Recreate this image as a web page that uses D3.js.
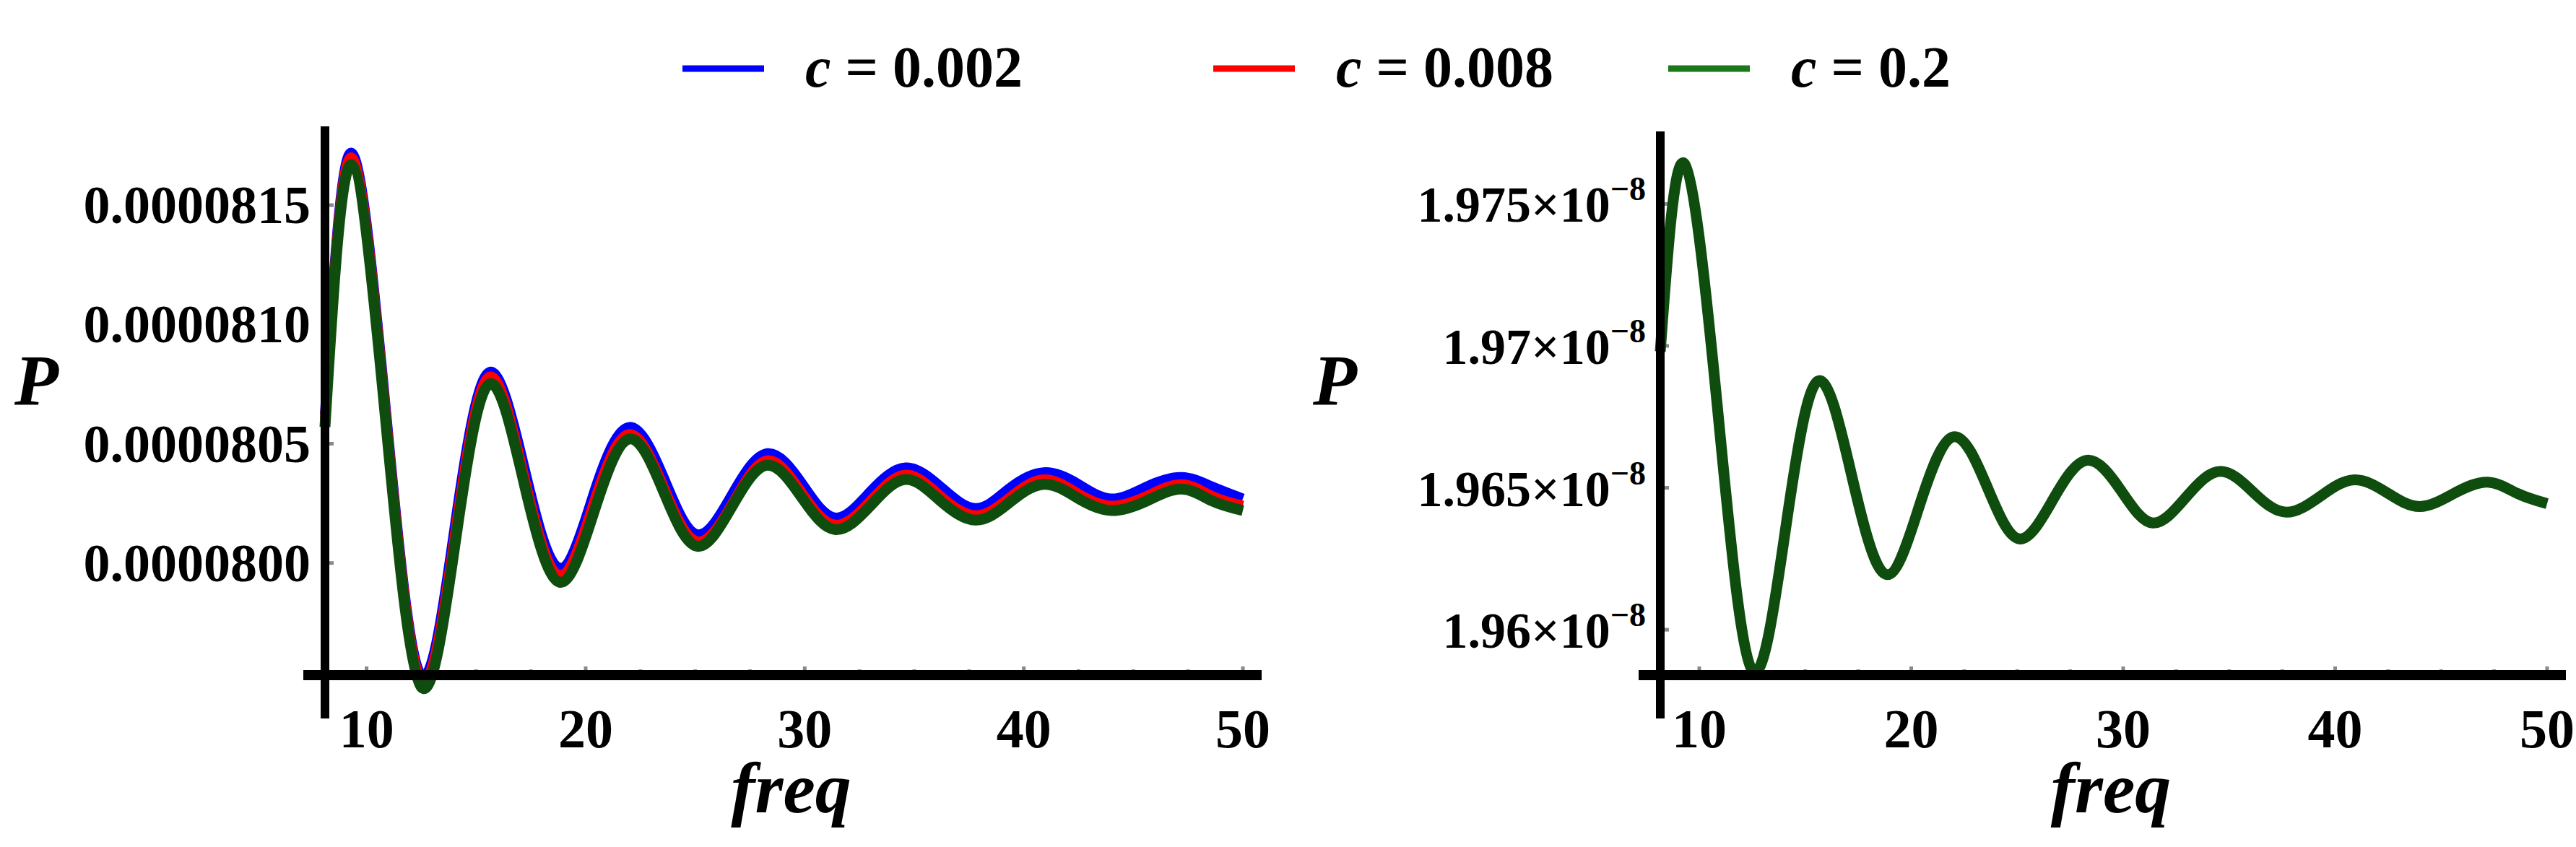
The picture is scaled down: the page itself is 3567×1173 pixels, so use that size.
<!DOCTYPE html>
<html><head><meta charset="utf-8">
<script src="https://cdn.jsdelivr.net/npm/d3@7"></script>
<style>body{margin:0;background:#fff}text{font-family:"Liberation Serif",serif;font-weight:bold}</style>
</head><body><svg width="3567" height="1173"></svg>
<script>
// left panel, freq points (extrema and a few between)
var freqL = [8.1, 9.3, 10.9, 12.5, 14.1, 15.6, 17.2, 18.8, 20.4, 22, 23.6, 25.1, 26.7, 28.3, 29.9, 31.4, 33, 34.6, 36.2, 37.8, 39.3, 40.9, 42.5, 44, 45.6, 47.2, 48.6, 50]
var pBlue  = [8.062e-5, 8.172e-5, 8.062e-5, 7.953e-5, 8.020e-5, 8.080e-5, 8.040e-5, 7.998e-5, 8.030e-5, 8.057e-5, 8.035e-5, 8.012e-5, 8.029e-5, 8.046e-5, 8.033e-5, 8.019e-5, 8.030e-5, 8.040e-5, 8.032e-5, 8.023e-5, 8.031e-5, 8.038e-5, 8.033e-5, 8.027e-5, 8.032e-5, 8.036e-5, 8.032e-5, 8.027e-5]
var pRed   = [8.060e-5, 8.170e-5, 8.060e-5, 7.951e-5, 8.016e-5, 8.078e-5, 8.036e-5, 7.995e-5, 8.026e-5, 8.054e-5, 8.031e-5, 8.009e-5, 8.025e-5, 8.043e-5, 8.029e-5, 8.016e-5, 8.026e-5, 8.037e-5, 8.028e-5, 8.020e-5, 8.027e-5, 8.035e-5, 8.029e-5, 8.024e-5, 8.028e-5, 8.033e-5, 8.028e-5, 8.024e-5]
var pGreen = [8.057e-5, 8.167e-5, 8.057e-5, 7.948e-5, 8.012e-5, 8.075e-5, 8.033e-5, 7.992e-5, 8.022e-5, 8.052e-5, 8.029e-5, 8.007e-5, 8.024e-5, 8.041e-5, 8.027e-5, 8.014e-5, 8.024e-5, 8.035e-5, 8.026e-5, 8.018e-5, 8.025e-5, 8.033e-5, 8.027e-5, 8.022e-5, 8.026e-5, 8.031e-5, 8.026e-5, 8.022e-5]
var ticksL = [0.0000800, 0.0000805, 0.0000810, 0.0000815]
var tickLabelsL = ["0.0000800", "0.0000805", "0.0000810", "0.0000815"]

// right panel (units of 1e-8)
var freqR = [8.16, 9.3, 10.9, 12.5, 14.1, 15.6, 17.2, 18.8, 20.4, 22, 23.6, 25.1, 26.7, 28.3, 29.9, 31.4, 33, 34.6, 36.2, 37.7, 39.3, 40.9, 42.5, 44, 45.6, 47.2, 48.6, 50]
var pR = [1.9698, 1.97642, 1.9675, 1.95857, 1.9637, 1.96876, 1.9654, 1.96195, 1.9644, 1.9668, 1.965, 1.9632, 1.9646, 1.96597, 1.9649, 1.96376, 1.9647, 1.96558, 1.9648, 1.96414, 1.9647, 1.96528, 1.9648, 1.96434, 1.9648, 1.9652, 1.9648, 1.96444]
var ticksR = [1.96, 1.965, 1.97, 1.975]
var tickLabelsR = ["1.96", "1.965", "1.97", "1.975"]

var xTicks = [10, 20, 30, 40, 50]
var legendNames = ["c = 0.002", "c = 0.008", "c = 0.2"]
var colors = ["#0000ff", "#ff0000", "#1a7a1a"]

var svg = d3.select("svg")

function panel(o) {
  var x = d3.scaleLinear().domain(o.xd).range([o.x0, o.x1])
  var y = d3.scaleLinear().domain(o.yd).range([o.yb, o.yt])
  var g = svg.append("g")
  // minor ticks
  for (var f = 10; f <= 50; f += 2.5) {
    g.append("line").attr("x1", x(f)).attr("x2", x(f)).attr("y1", o.yb - (f % 10 == 0 ? 12 : 8)).attr("y2", o.yb)
      .attr("stroke", "#888").attr("stroke-width", 5)
  }
  o.yt_ticks.forEach(function (t) {
    g.append("line").attr("x1", o.x0).attr("x2", o.x0 + 12).attr("y1", y(t)).attr("y2", y(t)).attr("stroke", "#888").attr("stroke-width", 5)
  })
  // series
  var line = d3.line().x(function (d) { return x(d[0]) }).y(function (d) { return y(d[1]) }).curve(d3.curveNatural)
  o.series.forEach(function (s) {
    g.append("path").datum(d3.zip(o.freq, s.v)).attr("d", line).attr("fill", "none")
      .attr("stroke", s.c).attr("stroke-width", s.w).attr("stroke-linejoin", "round")
  })
  // axes
  g.append("line").attr("x1", o.x0).attr("x2", o.x0).attr("y1", o.yt - 10).attr("y2", o.yb + 60).attr("stroke", "#000").attr("stroke-width", 12)
  g.append("line").attr("x1", o.x0 - 30).attr("x2", o.x1 + 26).attr("y1", o.yb).attr("y2", o.yb).attr("stroke", "#000").attr("stroke-width", 14)
  xTicks.forEach(function (t) {
    g.append("text").attr("x", x(t)).attr("y", o.yb + 100).attr("text-anchor", "middle").attr("font-size", 76).text(t)
  })
  o.yt_ticks.forEach(function (t, i) {
    var tx = g.append("text").attr("x", o.x0 - 20).attr("y", y(t) + 25).attr("text-anchor", "end").attr("font-size", o.sci ? 70 : 74)
    if (o.sci) {
      tx.append("tspan").text(o.labels[i] + "\u00d710")
      tx.append("tspan").attr("dy", -30).attr("font-size", 46).text("\u22128")
    } else tx.text(o.labels[i])
  })
  g.append("text").attr("x", o.px).attr("y", 560).attr("font-size", 100).attr("font-style", "italic").text("P")
  g.append("text").attr("x", (o.x0 + o.x1) / 2 + 10).attr("y", 1125).attr("text-anchor", "middle").attr("font-size", 100).attr("font-style", "italic").text("freq")
}

panel({ xd: [8.1, 50], x0: 450, x1: 1721, yd: [7.953e-5, 8.18e-5], yb: 935, yt: 185, freq: freqL,
  series: [{ v: pBlue, c: colors[0], w: 14 }, { v: pRed, c: colors[1], w: 14 }, { v: pGreen, c: "#0f4d0f", w: 15 }],
  yt_ticks: ticksL, labels: tickLabelsL, sci: false, px: 20 })
panel({ xd: [8.16, 50], x0: 2299, x1: 3527, yd: [1.9584, 1.9773], yb: 935, yt: 192, freq: freqR,
  series: [{ v: pR, c: "#0f4d0f", w: 15 }],
  yt_ticks: ticksR, labels: tickLabelsR, sci: true, px: 1818 })

// legend
var legX = [945, 1680, 2310]
legendNames.forEach(function (n, i) {
  svg.append("line").attr("x1", legX[i]).attr("x2", legX[i] + 113).attr("y1", 95).attr("y2", 95).attr("stroke", colors[i]).attr("stroke-width", 9)
  var t = svg.append("text").attr("x", legX[i] + 170).attr("y", 120).attr("font-size", 80)
  t.append("tspan").attr("font-style", "italic").text("c")
  t.append("tspan").text(n.slice(1))
})
</script></body></html>
